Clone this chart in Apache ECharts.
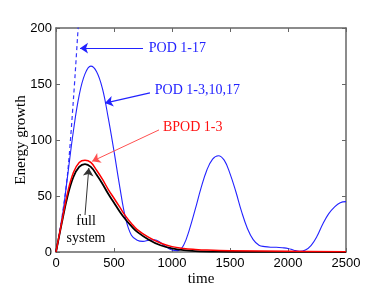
<!DOCTYPE html>
<html><head><meta charset="utf-8">
<script src="https://cdn.jsdelivr.net/npm/echarts@6/dist/echarts.min.js"></script>
<style>html,body{margin:0;padding:0;background:#fff}#c{width:390px;height:292px}</style>
</head><body><div id="c"></div>
<script>
// ---- data ----
const xTicks = [0, 500, 1000, 1500, 2000, 2500];
const yTicks = [0, 50, 100, 150, 200];

const fullT = [0,50,100,150,200,250,300,350,400,450,500,550,600,650,700,800,900,1000,1100,1200,1400,1700,2000,2500];
const fullE = [0,26,50,67,76,78.5,76,69,61,52,44,36,29,23,18,11,6,3.2,1.6,0.8,0.3,0.1,0.05,0];

const bpodT = [0,50,100,150,200,250,300,350,400,450,500,550,600,650,700,800,900,1000,1100,1200,1300,1500,2000,2500];
const bpodE = [0,27,53,71,80,82,80,73,65,56,48,40,32,25.5,20,13,8,4.8,3.2,2.3,1.7,1.1,0.6,0.3];

const pod5T = [0,50,100,150,200,250,300,350,400,450,500,550,600,650,700,750,800,850,900,950,1000,1050,1100,1150,1200,1250,1300,1350,1400,1450,1500,1550,1600,1650,1700,1750,1800,1850,1900,1950,2000,2050,2100,2150,2200,2250,2300,2350,2400,2450,2500];
const pod5E = [0,28,68,108,140,159,166,161,146,120,90,58,30,15,10.5,9.5,10.5,11,8.5,4.5,1.8,1.2,6,20,38,57,73,83,86,82,70,54,36,21,11,6,4.8,4.3,4.2,3.8,3.2,1.6,0.6,1.8,6,14,25,34,40,44,45];

const pod17T = [0,50,100,150,200,220];
const pod17E = [0,30,70,136,215,248];

// annotations (data coordinates)
const notes = [
  {text: 'POD 1-17',       at: [800, 182], from: [750, 182], to: [207, 182], color: '#2222ff'},
  {text: 'POD 1-3,10,17',  at: [852, 144], from: [810, 142], to: [422, 133], color: '#2222ff'},
  {text: 'BPOD 1-3',       at: [922, 111], from: [888, 109], to: [312, 81],  color: '#ff1010'}
];
const fullNote = {lines: ['full', 'system'], at: [259, 20], from: [250, 33], to: [283, 75]};

const zip = (a, b) => a.map((v, i) => [v, b[i]]);

const chart = echarts.init(document.getElementById('c'), null, {renderer: 'canvas'});
const serif = '"Liberation Serif", "Times New Roman", serif';
const sans = '"Liberation Sans", Arial, Helvetica, sans-serif';
const axisCol = '#666';

function arrowLine(n, lineColor, width) {
  return {
    silent: true, symbol: ['none', 'arrow'], symbolSize: 8, animation: false,
    label: {show: false},
    lineStyle: {color: lineColor, width: width, type: 'solid'},
    emphasis: {disabled: true},
    data: [[{coord: n.from}, {coord: n.to}]]
  };
}
function textPoint(n) {
  return {
    silent: true, animation: false,
    data: [{coord: n.at, symbol: 'circle', symbolSize: 0,
      label: {show: true, position: [0, 0], align: 'left', verticalAlign: 'middle',
        formatter: n.text, color: n.color, fontFamily: serif, fontSize: 14}}]
  };
}

const xBase = {type: 'value', min: 0, max: 2500, interval: 500,
  axisLine: {show: true, onZero: false, lineStyle: {color: axisCol, width: 1.5}},
  axisTick: {show: true, inside: true, length: 4, lineStyle: {color: axisCol, width: 1}},
  splitLine: {show: false}};
const yBase = {type: 'value', min: 0, max: 200, interval: 50,
  axisLine: {show: true, onZero: false, lineStyle: {color: axisCol, width: 1.5}},
  axisTick: {show: true, inside: true, length: 4, lineStyle: {color: axisCol, width: 1}},
  splitLine: {show: false}};

chart.setOption({
  animation: false,
  grid: {left: 56, right: 44, top: 28, bottom: 40, containLabel: false, outerBoundsMode: 'none'},
  xAxis: [
    Object.assign({}, xBase, {position: 'bottom', name: 'time', nameLocation: 'middle', nameGap: 20,
      nameMoveOverlap: false,
      nameTextStyle: {fontFamily: serif, fontSize: 15, color: '#000'},
      axisLabel: {color: '#000', fontFamily: sans, fontSize: 13, margin: 5,
        formatter: v => String(v)}}),
    Object.assign({}, xBase, {position: 'top', axisLabel: {show: false}})
  ],
  yAxis: [
    Object.assign({}, yBase, {position: 'left', name: 'Energy growth', nameLocation: 'middle', nameGap: 27,
      nameMoveOverlap: false,
      nameTextStyle: {fontFamily: serif, fontSize: 15, color: '#000'},
      axisLabel: {color: '#000', fontFamily: sans, fontSize: 13, margin: 4,
        formatter: v => String(v)}}),
    Object.assign({}, yBase, {position: 'right', axisLabel: {show: false}})
  ],
  series: [
    {type: 'line', name: 'POD 1-17', data: zip(pod17T, pod17E), showSymbol: false, smooth: 0.3,
      lineStyle: {color: '#3333ff', width: 1.2, type: [4, 3]}, z: 2,
      markLine: arrowLine(notes[0], '#2222ff', 1.2), markPoint: textPoint(notes[0])},
    {type: 'line', name: 'POD 1-3,10,17', data: zip(pod5T, pod5E), showSymbol: false, smooth: 0.4,
      lineStyle: {color: '#2222ff', width: 1.1}, z: 3,
      markLine: arrowLine(notes[1], '#2222ff', 1.2), markPoint: textPoint(notes[1])},
    {type: 'line', name: 'full system', data: zip(fullT, fullE), showSymbol: false, smooth: 0.4,
      lineStyle: {color: '#000', width: 1.8}, z: 4,
      markLine: arrowLine(fullNote, '#333', 1),
      markPoint: {silent: true, animation: false, data: [{coord: fullNote.at, symbol: 'circle', symbolSize: 0,
        label: {show: true, position: [0, 0], align: 'center', verticalAlign: 'middle',
          formatter: fullNote.lines.join('\n'), color: '#000', fontFamily: serif, fontSize: 14, lineHeight: 17}}]}},
    {type: 'line', name: 'BPOD 1-3', data: zip(bpodT, bpodE), showSymbol: false, smooth: 0.4,
      lineStyle: {color: '#ff0000', width: 1.5}, z: 5,
      markLine: arrowLine(notes[2], '#ff5050', 1), markPoint: textPoint(notes[2])}
  ]
});
</script></body></html>
